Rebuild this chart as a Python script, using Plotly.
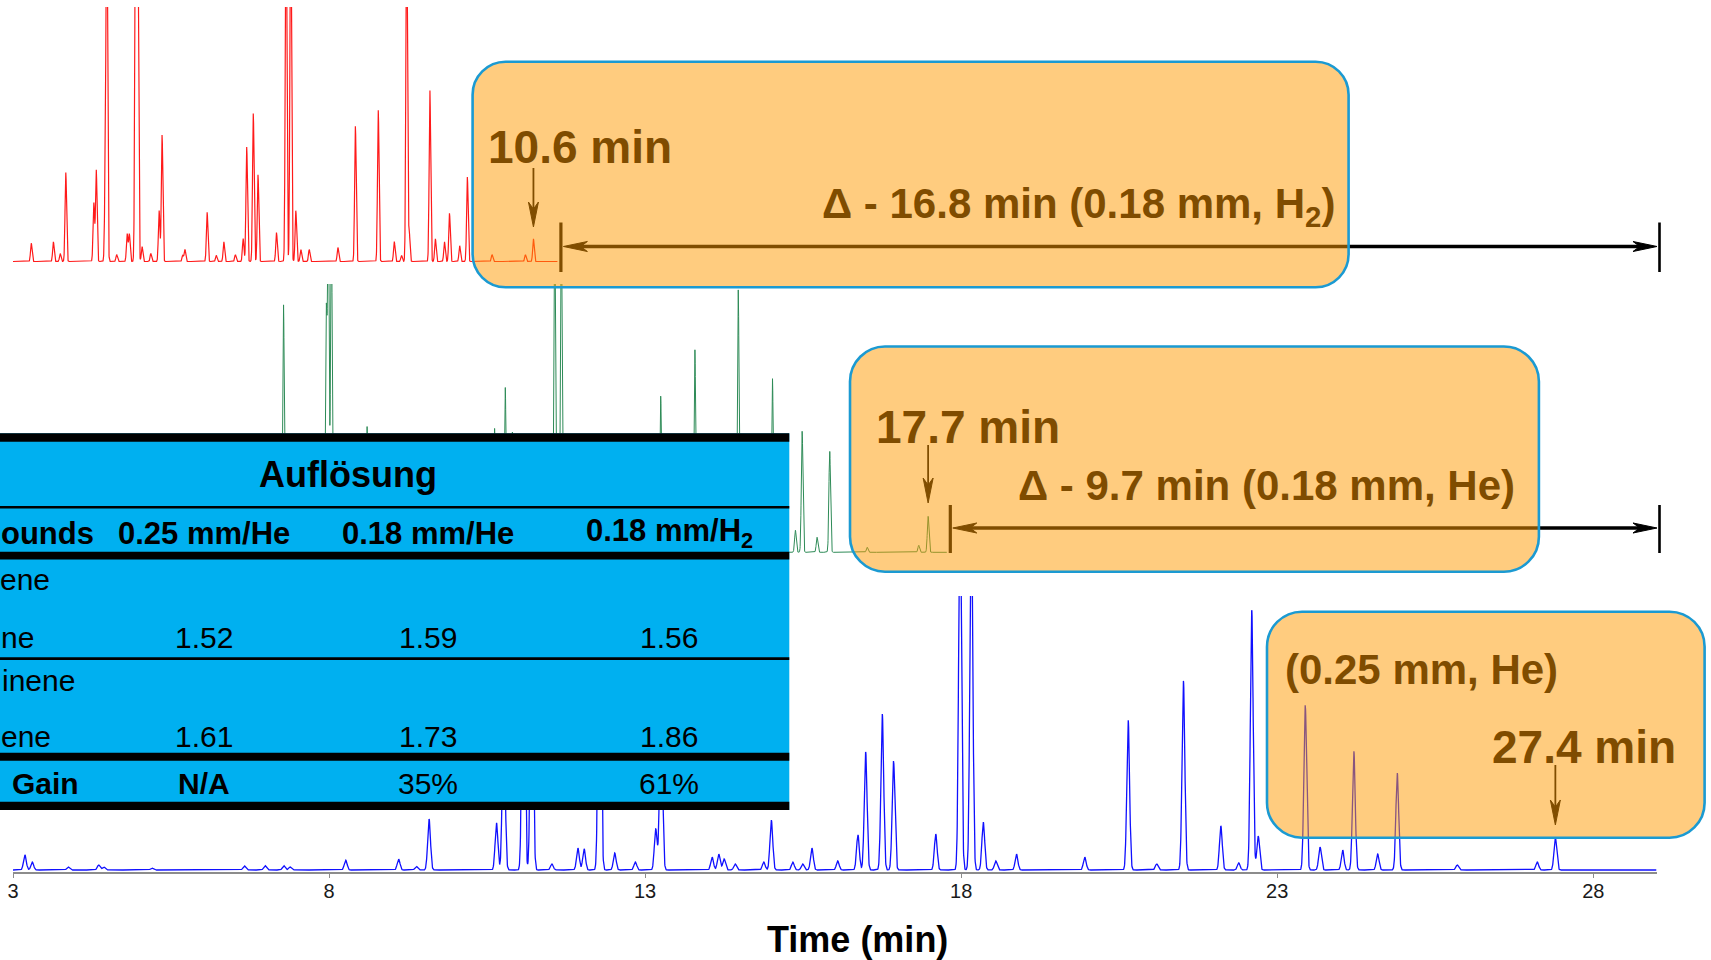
import numpy as np
import plotly.graph_objects as go

# ---------------- chromatogram peak lists ----------------
# retention time in minutes (own time base of each run) and peak height in % of the
# panel's full scale; heights above 100 run off-scale and are clipped by the panel.

# 0.18 mm column, H2 carrier (red)
H2_TIME = [3.267, 3.590, 3.690, 3.771, 4.180, 4.216, 4.349, 4.371, 4.514, 4.667,
           4.699, 4.790, 4.822, 4.885, 5.013, 5.134, 5.177, 5.479, 5.511, 5.835,
           5.968, 6.079, 6.248, 6.361, 6.413, 6.509, 6.578, 6.848, 6.987, 7.055,
           7.130, 7.204, 7.326, 7.745, 8.000, 8.334, 8.568, 8.674, 8.749, 8.785,
           9.088, 9.168, 9.301, 9.374, 9.523, 9.635, 9.996, 10.483, 10.600]
H2_HEIGHT = [7.2, 7.7, 3.1, 35, 23, 36, 35, 150, 2.7, 10.8,
             10.8, 150, 140, 5.9, 3.1, 20, 49.7, 2.4, 4.7, 19.3,
             2.4, 7.7, 2.7, 9, 45, 58.2, 34.1, 11.4, 150, 150,
             20, 4.7, 4.7, 5.5, 53.2, 59.4, 7.8, 2.4, 150, 12.4,
             67.3, 8.9, 7.7, 19, 6.2, 33.2, 2.7, 2.7, 8.9]
H2_RUN = (3.0, 10.95)
H2_LAST = 10.6

# 0.18 mm column, He carrier (green)
HE18_TIME = [7.345, 8.032, 8.066, 8.114, 8.687, 10.735, 10.907, 11.022, 11.701, 11.807,
             13.404, 13.953, 14.650, 15.199, 15.568, 15.676, 15.916, 16.119, 16.721,
             17.549, 17.700]
HE18_HEIGHT = [92.5, 87.7, 130, 130, 47, 46.3, 61.6, 44.8, 130, 130,
               58.2, 75.7, 97.8, 64.9, 8.2, 45.1, 5.6, 37.7, 1.9,
               2.6, 13.4]
HE18_RUN = (3.0, 18.0)
HE18_LAST = 17.7

# 0.25 mm column, He carrier (blue)
HE25_TIME = [3.188, 3.305, 3.873, 4.356, 4.435, 5.199, 6.660, 6.987, 7.283, 7.383,
             8.263, 9.100, 9.380, 9.582, 10.649, 10.763, 11.074, 11.207, 11.525, 11.937,
             12.035, 12.280, 12.519, 12.845, 13.168, 13.253, 14.060, 14.165, 14.250, 14.424,
             14.877, 14.997, 15.337, 15.492, 15.639, 16.047, 16.367, 16.489, 16.752, 16.930,
             17.598, 17.983, 18.161, 18.350, 18.547, 18.875, 19.955, 20.642, 21.093, 21.516,
             22.108, 22.391, 22.597, 22.699, 23.443, 23.677, 24.035, 24.212, 24.589, 24.899,
             25.848, 27.114, 27.400]
HE25_HEIGHT = [5.5, 2.9, 1.1, 1.8, 1.1, 0.7, 1.5, 1.6, 1.6, 1.1,
               3.6, 4.0, 1.3, 18.6, 17.2, 60, 110, 100, 2.2, 8,
               7.7, 130, 6.2, 2.9, 15, 70, 4.7, 5.8, 4, 2.2,
               2.9, 18.2, 2.9, 2.2, 8, 3.3, 12.8, 43.1, 56.9, 39.8,
               13.1, 140, 140, 17.5, 3.3, 5.8, 4.7, 54.7, 2.2, 69,
               16.1, 2.6, 94.9, 12.4, 60.2, 8.4, 7.3, 43.4, 5.8, 35.4,
               1.8, 2.9, 11.7]
HE25_RUN = (3.0, 29.0)
HE25_LAST = 27.4

TICKS = [3, 8, 13, 18, 23, 28]

# resolution table (left column only partly in view)
TABLE_TITLE = "Auflösung"
TABLE_HEAD = ["ounds", "0.25 mm/He", "0.18 mm/He", "0.18 mm/H<sub>2</sub>"]
PAIR_A = ["ene", "ne"]
PAIR_B = ["inene", "ene"]
RES_A = [1.52, 1.59, 1.56]
RES_B = [1.61, 1.73, 1.86]
GAIN = [None, 35, 61]

# ---------------- geometry helpers ----------------
W, H = 1711, 960
FONT = "Liberation Sans, Arial, Helvetica, sans-serif"
BROWN = "#7f4c00"
BOX_FILL = "rgba(255,153,0,0.5)"
BOX_EDGE = "#1b9ad2"
TABLE_BLUE = "#00b0f0"

AX_L, AX_R = 13.0, 1656.5          # pixel span of the time axes
X_MAIN = [3, 29]
X_H2 = [3, 27]
X_HE18 = [3, 29.4]


def fx(p):
    return p / W


def fy(p):
    return 1 - p / H


def to_px(t, rng):
    return AX_L + (t - rng[0]) / (rng[1] - rng[0]) * (AX_R - AX_L)


def band_domain(base_px, top_px, lo=-2.0, hi=100.0):
    unit = (base_px - top_px) / hi
    return [fy(base_px - lo * unit), fy(top_px)]


def chromatogram(times, heights, run, step, sigma):
    t = np.arange(run[0], run[1] + step / 2, step)
    tc = np.asarray(times, dtype=float)[:, None]
    hc = np.asarray(heights, dtype=float)[:, None]
    y = (hc * np.exp(-0.5 * ((t[None, :] - tc) / sigma) ** 2)).sum(axis=0)
    return t, y


# ---------------- traces ----------------
t_h2, y_h2 = chromatogram(H2_TIME, H2_HEIGHT, H2_RUN, 0.0015, 0.011)
t_he18, y_he18 = chromatogram(HE18_TIME, HE18_HEIGHT, HE18_RUN, 0.002, 0.013)
t_he25, y_he25 = chromatogram(HE25_TIME, HE25_HEIGHT, HE25_RUN, 0.003, 0.022)

fig = go.Figure()
fig.add_trace(go.Scatter(x=t_he25, y=y_he25, mode="lines", xaxis="x", yaxis="y",
                         line=dict(color="#1010ff", width=1.3), hoverinfo="skip"))
fig.add_trace(go.Scatter(x=t_h2, y=y_h2, mode="lines", xaxis="x2", yaxis="y2",
                         line=dict(color="#ff1a1a", width=1.2), hoverinfo="skip"))
fig.add_trace(go.Scatter(x=t_he18, y=y_he18, mode="lines", xaxis="x3", yaxis="y3",
                         line=dict(color="#2e8b57", width=1.0), hoverinfo="skip"))

# ---------------- shapes ----------------
shapes = []


def seg(x0, y0, x1, y1, color="black", width=2.0):
    shapes.append(dict(type="line", xref="paper", yref="paper", layer="above",
                       x0=fx(x0), y0=fy(y0), x1=fx(x1), y1=fy(y1),
                       line=dict(color=color, width=width)))


def head(tx, ty, dx, dy, length=24, half=5, color="black"):
    nx, ny = -dy, dx
    bx, by = tx - length * dx, ty - length * dy
    mx, my = tx - 0.72 * length * dx, ty - 0.72 * length * dy
    pts = [(tx, ty), (bx + half * nx, by + half * ny), (mx, my),
           (bx - half * nx, by - half * ny)]
    path = "M " + " L ".join(f"{fx(a):.5f},{fy(b):.5f}" for a, b in pts) + " Z"
    shapes.append(dict(type="path", xref="paper", yref="paper", layer="above",
                       path=path, fillcolor=color, line=dict(color=color, width=1)))


def rrect(x0, y0, x1, y1, r, fill, edge, width):
    k = 0.5523 * r
    P = lambda a, b: f"{fx(a):.5f},{fy(b):.5f}"
    path = (f"M {P(x0 + r, y0)} L {P(x1 - r, y0)} "
            f"C {P(x1 - r + k, y0)} {P(x1, y0 + r - k)} {P(x1, y0 + r)} "
            f"L {P(x1, y1 - r)} "
            f"C {P(x1, y1 - r + k)} {P(x1 - r + k, y1)} {P(x1 - r, y1)} "
            f"L {P(x0 + r, y1)} "
            f"C {P(x0 + r - k, y1)} {P(x0, y1 - r + k)} {P(x0, y1 - r)} "
            f"L {P(x0, y0 + r)} "
            f"C {P(x0, y0 + r - k)} {P(x0 + r - k, y0)} {P(x0 + r, y0)} Z")
    shapes.append(dict(type="path", xref="paper", yref="paper", layer="above",
                       path=path, fillcolor=fill,
                       line=dict(color=edge, width=width)))


def rect(x0, y0, x1, y1, fill):
    shapes.append(dict(type="rect", xref="paper", yref="paper", layer="above",
                       x0=fx(x0), y0=fy(y0), x1=fx(x1), y1=fy(y1),
                       fillcolor=fill, line=dict(width=0)))


# run-time difference arrows (drawn below the highlight boxes)
for run_end, rng, y_line, y_top, y_bot in [
        (H2_RUN[1], X_H2, 246.5, 222.5, 272.0),
        (HE18_RUN[1], X_HE18, 528.0, 505.0, 553.0)]:
    xb = to_px(run_end, rng) + 3.5
    xr = AX_R + 3.0
    seg(xb, y_top, xb, y_bot, width=3.2)
    seg(xr, y_top, xr, y_bot, width=2.6)
    seg(xb + 12, y_line, xr - 12, y_line, width=3.4)
    head(xb + 2.5, y_line, -1, 0, length=24, half=5)
    head(xr - 2.5, y_line, 1, 0, length=24, half=5)

# markers for the last eluting peak of each run
for t_last, rng, y0, y1 in [(H2_LAST, X_H2, 168.0, 227.0),
                            (HE18_LAST, X_HE18, 445.0, 503.0),
                            (HE25_LAST, X_MAIN, 765.0, 825.0)]:
    xa = to_px(t_last, rng)
    seg(xa, y0, xa, y1 - 10, width=1.8)
    head(xa, y1, 0, 1, length=25, half=5)

# highlight boxes
rrect(472.6, 61.7, 1348.6, 287.3, 33, BOX_FILL, BOX_EDGE, 2.6)
rrect(850.0, 346.5, 1538.9, 571.7, 35, BOX_FILL, BOX_EDGE, 2.6)
rrect(1267.0, 611.7, 1704.6, 837.7, 35, BOX_FILL, BOX_EDGE, 2.6)

# resolution table
TAB_R = 789.3
rect(-5, 433.3, TAB_R, 810.0, TABLE_BLUE)
rect(-5, 433.3, TAB_R, 441.7, "black")
rect(-5, 506.0, TAB_R, 508.6, "black")
rect(-5, 551.7, TAB_R, 559.4, "black")
rect(-5, 657.3, TAB_R, 660.0, "black")
rect(-5, 752.7, TAB_R, 760.7, "black")
rect(-5, 801.7, TAB_R, 810.0, "black")

# ---------------- text ----------------
annotations = []


def label(x, y, text, size, color="black", bold=False, xanchor="center", family=FONT):
    annotations.append(dict(xref="paper", yref="paper", x=fx(x), y=fy(y), text=text,
                            showarrow=False, xanchor=xanchor, yanchor="middle",
                            font=dict(family=family, size=size, color=color,
                                      weight="bold" if bold else "normal")))


# box captions
label(579.7, 146.7, f"{H2_LAST:.1f} min", 46, BROWN, True)
label(1078.5, 206.0, f"Δ - {HE25_LAST - H2_LAST:.1f} min (0.18 mm, H<sub>2</sub>)",
      42, BROWN, True)
label(967.7, 426.7, f"{HE18_LAST:.1f} min", 46, BROWN, True)
label(1266.4, 485.5, f"Δ - {HE25_LAST - HE18_LAST:.1f} min (0.18 mm, He)", 42, BROWN, True)
label(1421.7, 669.7, "(0.25 mm, He)", 42, BROWN, True)
label(1583.8, 747.0, f"{HE25_LAST:.1f} min", 46, BROWN, True)

# table content
COL_X = [203.5, 427.5, 669.0]
label(347.5, 474.0, TABLE_TITLE, 36, bold=True)
label(-1.5, 533.0, TABLE_HEAD[0], 31, bold=True, xanchor="left")
for cx, head_txt in zip(COL_X, TABLE_HEAD[1:]):
    label(cx, 533.0, head_txt, 31, bold=True)

label(-2.0, 579.5, PAIR_A[0], 30, xanchor="left")
label(-1.0, 637.5, PAIR_A[1], 30, xanchor="left")
label(0.0, 680.0, PAIR_B[0], 30, xanchor="left")
label(-1.0, 736.5, PAIR_B[1], 30, xanchor="left")
for cx, va, vb in zip(COL_X, RES_A, RES_B):
    label(cx, 637.5, f"{va:.2f}", 30)
    label(cx, 736.5, f"{vb:.2f}", 30)

label(10.0, 783.5, "Gain", 30, bold=True, xanchor="left")
for cx, g in zip(COL_X, GAIN):
    if g is None:
        label(cx, 783.5, "N/A", 30, bold=True)
    else:
        label(cx, 783.5, f"{g}%", 30)

# axis title
label(857.0, 939.0, "Time (min)", 36, bold=True)

# ---------------- layout ----------------
x_dom = [fx(AX_L), fx(AX_R)]
fig.update_layout(
    template="none",
    width=W, height=H,
    margin=dict(l=0, r=0, t=0, b=0),
    paper_bgcolor="white",
    plot_bgcolor="rgba(0,0,0,0)",
    showlegend=False,
    xaxis=dict(domain=x_dom, range=X_MAIN, anchor="free", position=fy(872.5),
               showline=True, linecolor="#8c8c8c", linewidth=1.5,
               ticks="outside", ticklen=5, tickwidth=1.2, tickcolor="#8c8c8c",
               tickvals=TICKS, ticktext=[str(v) for v in TICKS],
               ticklabelstandoff=-4,
               tickfont=dict(family=FONT, size=20, color="#1a1a1a"),
               showgrid=False, zeroline=False, automargin=False, fixedrange=True),
    yaxis=dict(domain=band_domain(870.0, 596.0), range=[-2, 100], anchor="x",
               visible=False, automargin=False),
    xaxis2=dict(domain=x_dom, range=X_H2, anchor="y2", visible=False, automargin=False),
    yaxis2=dict(domain=band_domain(261.5, 7.0), range=[-2, 100], anchor="x2",
                visible=False, automargin=False),
    xaxis3=dict(domain=x_dom, range=X_HE18, anchor="y3", visible=False, automargin=False),
    yaxis3=dict(domain=band_domain(552.3, 284.0), range=[-2, 100], anchor="x3",
                visible=False, automargin=False),
    shapes=shapes,
    annotations=annotations,
)

fig.write_html("out.html")
